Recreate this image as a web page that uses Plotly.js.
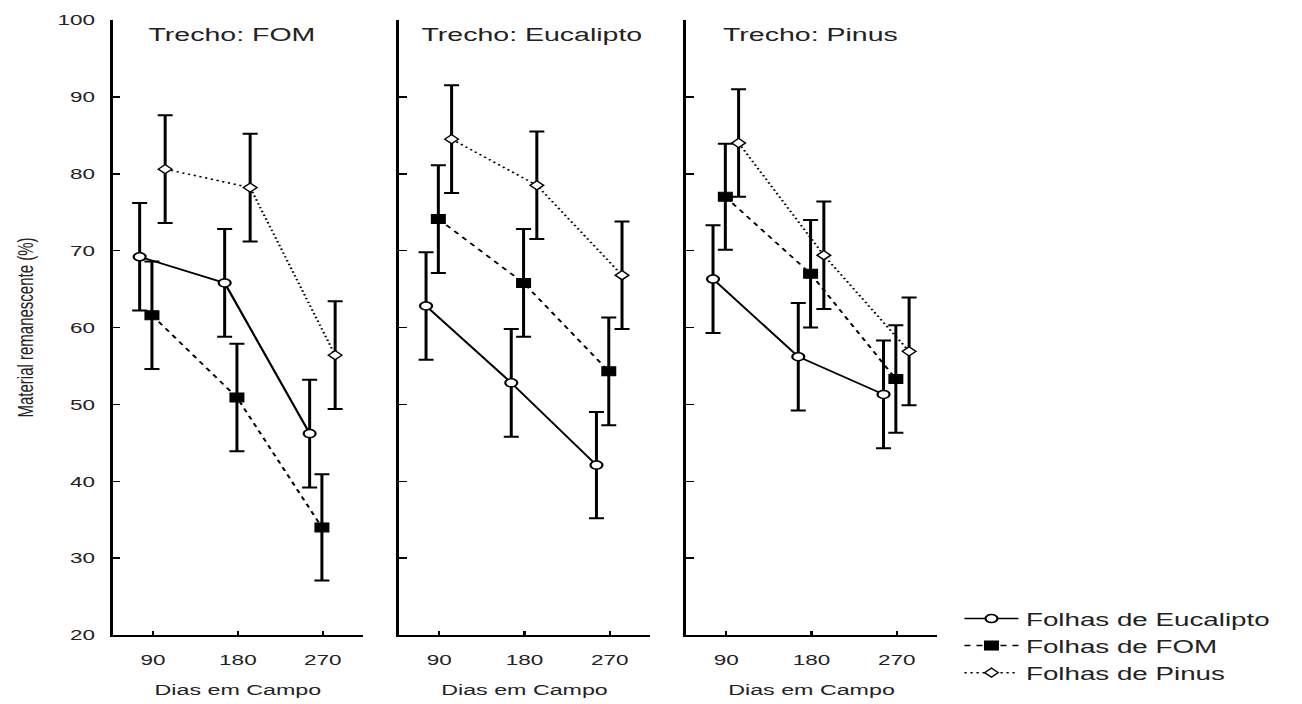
<!DOCTYPE html>
<html>
<head>
<meta charset="utf-8">
<script src="https://cdn.plot.ly/plotly-3.0.1.min.js"></script>
<style>
  html, body { margin: 0; padding: 0; background: #fff; overflow: hidden; }
  /* the reference raster is stretched 1.5x horizontally; reproduce that */
  #chart { width: 868px; height: 704px; transform: scaleX(1.5); transform-origin: 0 0; }
</style>
</head>
<body>
<div id="chart"></div>
<script>
// ---- data ----
const days = [90, 180, 270];
const xTickLabels = ['90', '180', '270'];
const panelTitles = ['Trecho: FOM', 'Trecho: Eucalipto', 'Trecho: Pinus'];
const seriesNames = ['Folhas de Eucalipto', 'Folhas de FOM', 'Folhas de Pinus'];

// Trecho: FOM
const fomPanelEuc = [69.2, 65.8, 46.2];
const fomPanelEucErr = [7.0, 7.0, 7.0];
const fomPanelFom = [61.6, 50.9, 34.0];
const fomPanelFomErr = [7.0, 7.0, 6.9];
const fomPanelPin = [80.6, 78.2, 56.4];
const fomPanelPinErr = [7.0, 7.0, 7.0];

// Trecho: Eucalipto
const eucPanelEuc = [62.8, 52.8, 42.1];
const eucPanelEucErr = [7.0, 7.0, 6.9];
const eucPanelFom = [74.1, 65.8, 54.3];
const eucPanelFomErr = [7.0, 7.0, 7.0];
const eucPanelPin = [84.5, 78.5, 66.8];
const eucPanelPinErr = [7.0, 7.0, 7.0];

// Trecho: Pinus
const pinPanelEuc = [66.3, 56.2, 51.3];
const pinPanelEucErr = [7.0, 7.0, 7.0];
const pinPanelFom = [77.0, 67.0, 53.3];
const pinPanelFomErr = [6.9, 7.0, 7.0];
const pinPanelPin = [84.0, 69.4, 56.9];
const pinPanelPinErr = [7.0, 7.0, 7.0];

// ---- styling ----
const dodge = [-14, -1, 13]; // horizontal dodge (days) per series
const FONT = 'Liberation Sans, Arial, sans-serif';
const styles = [
  {line: {color: '#000', width: 1.6, dash: 'solid'},
   marker: {symbol: 'circle', size: 8, color: '#fff', line: {color: '#000', width: 1.5}}},
  {line: {color: '#000', width: 1.5, dash: '4px,4px'},
   marker: {symbol: 'square', size: 9, color: '#000', line: {color: '#000', width: 1}}},
  {line: {color: '#000', width: 1.5, dash: '1.5px,2.5px'},
   marker: {symbol: 'diamond', size: 7, color: '#fff', line: {color: '#000', width: 1.2}}}
];

const panels = [
  {vals: [fomPanelEuc, fomPanelFom, fomPanelPin], errs: [fomPanelEucErr, fomPanelFomErr, fomPanelPinErr]},
  {vals: [eucPanelEuc, eucPanelFom, eucPanelPin], errs: [eucPanelEucErr, eucPanelFomErr, eucPanelPinErr]},
  {vals: [pinPanelEuc, pinPanelFom, pinPanelPin], errs: [pinPanelEucErr, pinPanelFomErr, pinPanelPinErr]}
];

const traces = [];
panels.forEach((p, pi) => {
  const sfx = pi === 0 ? '' : String(pi + 1);
  p.vals.forEach((v, si) => {
    traces.push({
      type: 'scatter', mode: 'lines+markers',
      name: seriesNames[si],
      legendgroup: seriesNames[si],
      showlegend: pi === 0,
      x: days.map(d => d + dodge[si]),
      y: v,
      xaxis: 'x' + sfx, yaxis: 'y' + sfx,
      line: styles[si].line,
      marker: styles[si].marker,
      error_y: {type: 'data', array: p.errs[si], visible: true, color: '#000', thickness: 2, width: 5},
      cliponaxis: false
    });
  });
});

const domains = [[0.0866, 0.2788], [0.3065, 0.4992], [0.5269, 0.7197]];
const yDomain = [1 - 635 / 704, 1 - 20 / 704];

function xAxis(i) {
  return {
    domain: domains[i], range: [47.5, 312.5], anchor: i === 0 ? 'y' : 'y' + (i + 1),
    tickmode: 'array', tickvals: days, ticktext: xTickLabels,
    ticks: 'inside', ticklen: 4, tickwidth: 1.5, tickcolor: '#000',
    showline: true, linecolor: '#000', linewidth: 1.8,
    showgrid: false, zeroline: false,
    ticklabelstandoff: 10,
    tickfont: {family: FONT, size: 15, color: '#222'},
    title: {text: 'Dias em Campo', font: {family: FONT, size: 15.5, color: '#222'}, standoff: 17}
  };
}
function yAxis(i) {
  const ax = {
    domain: yDomain, range: [20, 100], anchor: i === 0 ? 'x' : 'x' + (i + 1),
    tickmode: 'linear', tick0: 20, dtick: 10,
    ticks: 'inside', ticklen: 5, tickwidth: 1.5, tickcolor: '#000',
    showline: true, linecolor: '#000', linewidth: 1.8,
    showgrid: false, zeroline: false,
    showticklabels: i === 0,
    ticklabelstandoff: 7,
    tickfont: {family: FONT, size: 15, color: '#222'}
  };
  if (i === 0) ax.title = {text: 'Material remanescente (%)', font: {family: FONT, size: 15, color: '#222'}, standoff: 12};
  return ax;
}

const titleX = [154 / 868, 354.7 / 868, 540 / 868];
const annotations = panelTitles.map((t, i) => ({
  text: t, xref: 'paper', yref: 'paper', x: titleX[i], y: 1 - 35 / 704,
  xanchor: 'center', yanchor: 'middle', showarrow: false,
  font: {family: FONT, size: 19, color: '#222'}
}));

const layout = {
  width: 868, height: 704,
  margin: {l: 0, r: 0, t: 0, b: 0},
  paper_bgcolor: '#fff', plot_bgcolor: '#fff',
  showlegend: true,
  legend: {x: 0.735, y: 1 - 600 / 704, xanchor: 'left', yanchor: 'top',
           font: {family: FONT, size: 18.5, color: '#222'}, tracegroupgap: 0,
           bgcolor: 'rgba(0,0,0,0)', itemwidth: 36},
  annotations: annotations,
  xaxis: xAxis(0), xaxis2: xAxis(1), xaxis3: xAxis(2),
  yaxis: yAxis(0), yaxis2: yAxis(1), yaxis3: yAxis(2)
};

Plotly.newPlot('chart', traces, layout, {staticPlot: true, displayModeBar: false});
</script>
</body>
</html>
